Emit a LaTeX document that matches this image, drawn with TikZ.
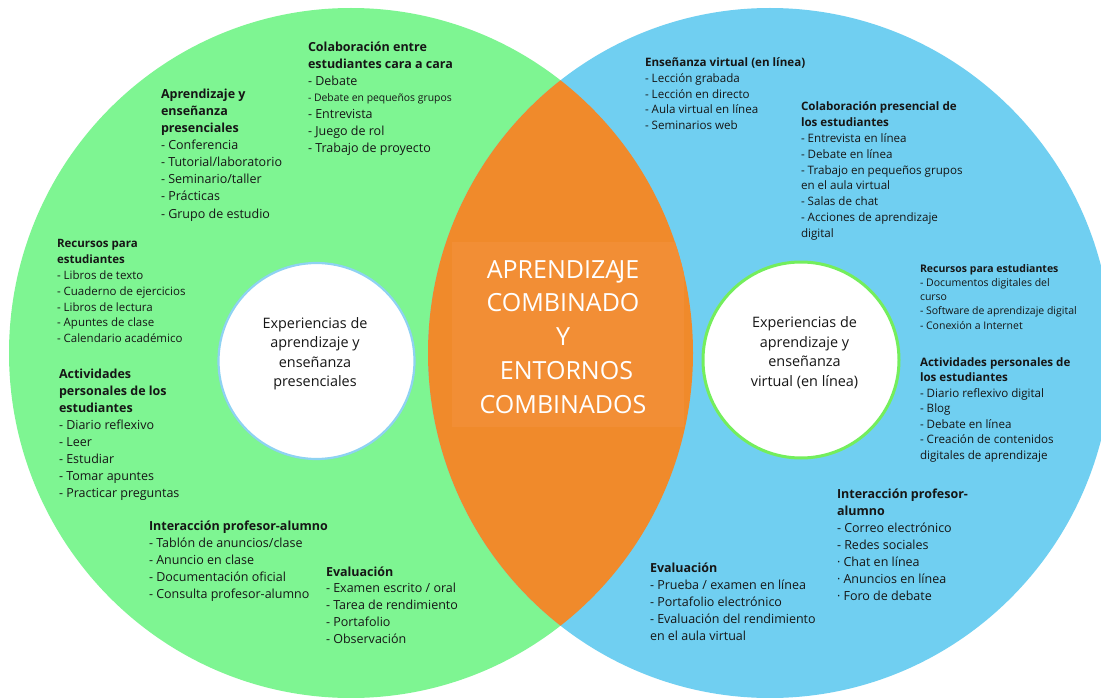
\documentclass[tikz,border=0pt]{standalone}
\usepackage{fontspec}
\setmainfont{Open Sans}
\definecolor{cgreen}{HTML}{7EF592}
\definecolor{cblue}{HTML}{70CFF1}
\definecolor{corange}{HTML}{F08A2B}
\definecolor{corangeb}{HTML}{F28E35}
\definecolor{ringblue}{HTML}{8ED2F2}
\definecolor{ringgreen}{HTML}{74EE5C}
\definecolor{txtc}{HTML}{161616}
\newcommand{\fl}{\rule{0pt}{10pt}}
\tikzset{
  blk/.style={anchor=north west, inner sep=0pt, outer sep=0pt, align=left, text=txtc},
  ctr/.style={anchor=north, inner sep=0pt, outer sep=0pt, align=center},
}
\begin{document}
\begin{tikzpicture}[x=1pt,y=-1pt]
\useasboundingbox (0,0) rectangle (1101,698);
\clip (0,0) rectangle (1101,698);
\fill[white] (0,0) rectangle (1101,698);
% circles
\fill[cgreen] (351,353) ellipse [x radius=342, y radius=345];
\fill[cblue] (770,353) ellipse [x radius=342, y radius=345];
\begin{scope}
  \clip (351,353) ellipse [x radius=342, y radius=345];
  \fill[corange] (770,353) ellipse [x radius=342, y radius=345];
  \clip (770,353) ellipse [x radius=342, y radius=345];
  \fill[corangeb] (452,242) rectangle (684,427);
\end{scope}
% inner white circles
\draw[ringblue, line width=2.2pt, fill=white] (316.5,361) circle [radius=98];
\draw[ringgreen, line width=3pt, fill=white] (801,360) circle [radius=98];

% centre texts
\node[ctr, text=txtc, font=\fontsize{14.4}{19.5}\selectfont] (expL) at (315,316)
  {\rule{0pt}{12pt}Experiencias de\\aprendizaje y\\enseñanza\\presenciales};
\node[ctr, text=txtc, font=\fontsize{14.4}{19.5}\selectfont] (expR) at (804.5,315.7)
  {\rule{0pt}{12pt}Experiencias de\\aprendizaje y\\enseñanza\\virtual (en línea)};
\node[ctr, text=white, font=\fontsize{25}{33.7}\selectfont] (main) at (563,258.2)
  {\rule{0pt}{20pt}APRENDIZA\kern-2.5pt JE\\COMBINADO\\Y\\\hspace*{7pt}ENTORNOS\\COMBINADOS};

% left (green) blocks
\node[blk, font=\fontsize{12.5}{16.8}\selectfont] (colabL) at (308,41.6)
  {\fl\textbf{Colaboración entre}\\\textbf{estudiantes cara a cara}\\- Debate\\{\fontsize{10.4}{16.8}\selectfont - Debate en pequeños grupos}\\- Entrevista\\- Juego de rol\\- Trabajo de proyecto};
\node[blk, font=\fontsize{12.5}{17.06}\selectfont] (aprL) at (161,88.6)
  {\fl\textbf{Aprendizaje y}\\\textbf{enseñanza}\\\textbf{presenciales}\\- Conferencia\\- Tutorial/laboratorio\\- Seminario/taller\\- Prácticas\\- Grupo de estudio};
\node[blk, font=\fontsize{11.5}{15.83}\selectfont] (recL) at (57,237.7)
  {\fl\textbf{Recursos para}\\\textbf{estudiantes}\\- Libros de texto\\- Cuaderno de ejercicios\\- Libros de lectura\\- Apuntes de clase\\- Calendario académico};
\node[blk, font=\fontsize{12.5}{17.04}\selectfont] (actL) at (59,368.3)
  {\fl\textbf{Actividades}\\\textbf{personales de los}\\\textbf{estudiantes}\\- Diario reflexivo\\- Leer\\- Estudiar\\- Tomar apuntes\\- Practicar preguntas};
\node[blk, font=\fontsize{12.5}{17.1}\selectfont] (intL) at (149,520.3)
  {\fl\textbf{Interacción profesor-alumno}\\- Tablón de anuncios/clase\\- Anuncio en clase\\- Documentación oficial\\- Consulta profesor-alumno};
\node[blk, font=\fontsize{12.5}{16.9}\selectfont] (evaL) at (326,566)
  {\fl\textbf{Evaluación}\\- Examen escrito / oral\\- Tarea de rendimiento\\- Portafolio\\- Observación};

% right (blue) blocks
\node[blk, font=\fontsize{11.6}{15.75}\selectfont] (ensR) at (645,56.7)
  {\fl\textbf{Enseñanza virtual (en línea)}\\- Lección grabada\\- Lección en directo\\- Aula virtual en línea\\- Seminarios web};
\node[blk, font=\fontsize{11.6}{15.83}\selectfont] (colR) at (801,100.7)
  {\fl\textbf{Colaboración presencial de}\\\textbf{los estudiantes}\\- Entrevista en línea\\- Debate en línea\\- Trabajo en pequeños grupos\\en el aula virtual\\- Salas de chat\\- Acciones de aprendizaje\\digital};
\node[blk, font=\fontsize{10.5}{14.25}\selectfont] (recR) at (920,262.2)
  {\fl\textbf{Recursos para estudiantes}\\- Documentos digitales del\\curso\\- Software de aprendizaje digital\\- Conexión a Internet};
\node[blk, font=\fontsize{11.6}{15.55}\selectfont] (actR) at (920,356)
  {\fl\textbf{Actividades personales de}\\\textbf{los estudiantes}\\- Diario reflexivo digital\\- Blog\\- Debate en línea\\- Creación de contenidos\\digitales de aprendizaje};
\node[blk, font=\fontsize{12.5}{17}\selectfont] (intR) at (837,488.3)
  {\fl\textbf{Interacción profesor-}\\\textbf{alumno}\\- Correo electrónico\\- Redes sociales\\· Chat en línea\\· Anuncios en línea\\· Foro de debate};
\node[blk, font=\fontsize{12.5}{16.9}\selectfont] (evaR) at (650,562.6)
  {\fl\textbf{Evaluación}\\- Prueba / examen en línea\\- Portafolio electrónico\\- Evaluación del rendimiento\\en el aula virtual};
\end{tikzpicture}
\end{document}
